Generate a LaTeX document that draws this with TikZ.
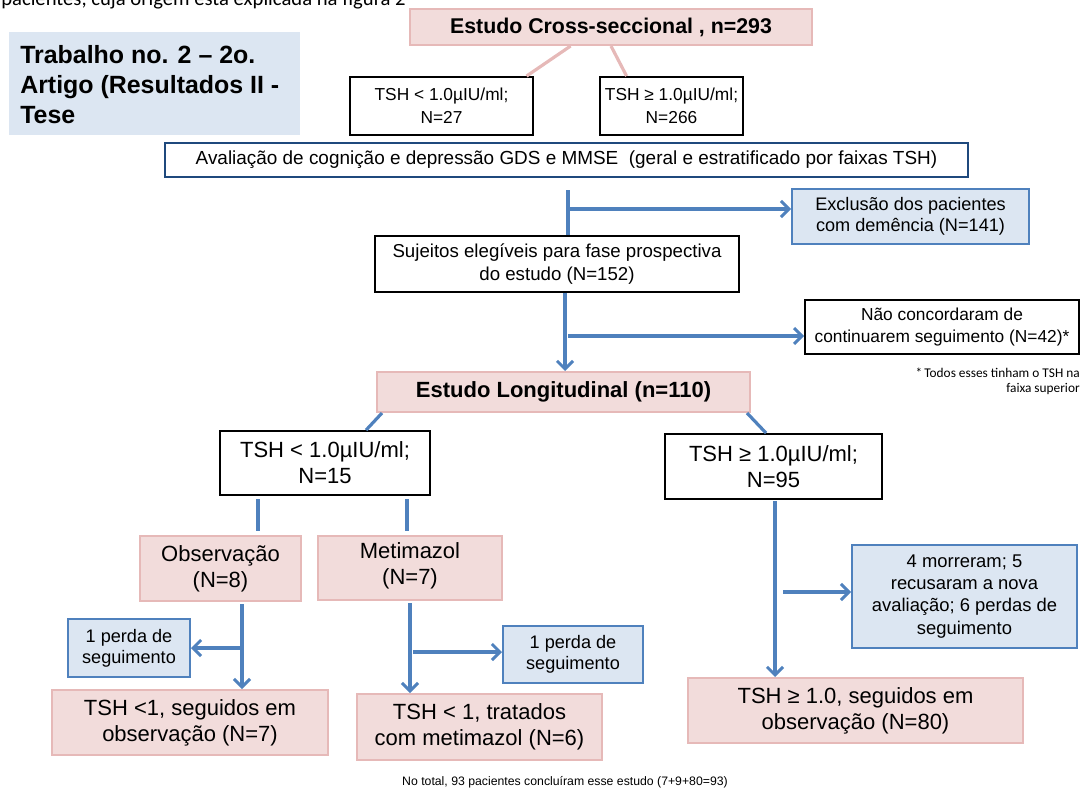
\documentclass[tikz,border=0pt]{standalone}
\usepackage{fontspec}
\setmainfont{Liberation Sans}
\newfontfamily\calib{Carlito}
\usetikzlibrary{fit,calc,arrows.meta}
\definecolor{pinkfill}{HTML}{F2DCDB}
\definecolor{pinkline}{HTML}{E6B9B8}
\definecolor{bluefill}{HTML}{DCE6F2}
\definecolor{blueline}{HTML}{4F81BD}
\definecolor{darkblue}{HTML}{1F497D}
\begin{document}
\begin{tikzpicture}[x=0.75pt,y=-0.75pt,
  base/.style={inner sep=0pt, align=center},
  small/.style={font=\fontsize{13}{17}\selectfont},
  large/.style={font=\fontsize{16.5}{19.5}\selectfont},
  mid/.style={font=\fontsize{13.6}{16}\selectfont},
  head/.style={font=\fontsize{16.5}{20}\selectfont\bfseries},
  blk/.style={base, draw=black, line width=1.4pt},
  pinkbox/.style={base, draw=pinkline, fill=pinkfill, line width=1.5pt},
  bluebox/.style={base, draw=blueline, fill=bluefill, line width=1.5pt},
  conn/.style={draw=blueline, line width=2.4pt},
  arr/.style={conn, -{Straight Barb[length=6pt,width=12pt,line width=2.2pt]}},
  pinkconn/.style={draw=pinkline, line width=2.4pt}]
\useasboundingbox (0,0) rectangle (1084,792);

% top cut text
\node[anchor=base west, inner sep=0pt, font=\calib\fontsize{15.5}{17}\selectfont] (toptext) at (1,6) {pacientes, cuja origem está explicada na figura 2};

% title
\node[base, fill=bluefill, fit={(9,32) (300,135)}] (titlebox) {};
\node[anchor=north west, inner sep=0pt, align=left, font=\fontsize{18.7}{22.5}\selectfont\bfseries] (title) at (20,45) {Trabalho no. 2 – 2o.\\Artigo (Resultados II -\\Tese};

% boxes
\node[pinkbox, fit={(410,9) (812,45)}] (cross) {};
\node[font=\fontsize{16}{20}\selectfont\bfseries] at (cross.center) (crosst) {Estudo Cross-seccional , n=293};

\node[blk, fit={(350,77) (533,135)}] (tsha) {};
\node[small, align=center] at (tsha.center) (tshat) {TSH < 1.0µIU/ml;\\N=27};
\node[blk, fit={(600,77) (743,135)}] (tshb) {};
\node[small, align=center] at (tshb.center) (tshbt) {TSH ≥ 1.0µIU/ml;\\N=266};

\node[base, draw=darkblue, line width=1.6pt, fit={(165,143) (968,177)}] (aval) {};
\node[font=\fontsize{14.2}{17}\selectfont] at (aval.center) (avalt) {Avaliação de cognição e depressão GDS e MMSE\ \ (geral e estratificado por faixas TSH)};

\node[bluebox, fit={(792,189) (1029,244)}] (excl) {};
\node[mid, align=center] at (excl.center) (exclt) {Exclusão dos pacientes\\com demência (N=141)};

\node[blk, fit={(375,236) (739,292)}] (suj) {};
\node[font=\fontsize{14}{17.5}\selectfont, align=center] at (suj.center) (sujt) {Sujeitos elegíveis para fase prospectiva\\do estudo (N=152)};

\node[blk, fit={(805,300) (1079,354)}] (nao) {};
\node[small, align=center] at (nao.center) (naot) {Não concordaram de\\continuarem seguimento (N=42)*};

\node[anchor=north east, inner sep=0pt, align=right, font=\calib\fontsize{10}{11}\selectfont] (foot) at (1080,368) {*\,Todos esses tinham o TSH na\\faixa superior};

\node[pinkbox, fit={(377,372) (750,412)}] (long) {};
\node[head] at (long.center) (longt) {Estudo Longitudinal (n=110)};

\node[blk, fit={(220,431) (430,495)}] (tshc) {};
\node[large, align=center] at (tshc.center) (tshct) {TSH < 1.0µIU/ml;\\N=15};
\node[blk, fit={(665,434) (882,499)}] (tshd) {};
\node[large, align=center] at (tshd.center) (tshdt) {TSH ≥ 1.0µIU/ml;\\N=95};

\node[pinkbox, fit={(140,536) (301,601)}] (obs) {};
\node[large, align=center] at (obs.center) (obst) {Observação\\(N=8)};
\node[pinkbox, fit={(318,536) (502,600)}] (meti) {};
\node[large, align=center] at ([yshift=2pt]meti.center) (metit) {Metimazol\\(N=7)};

\node[bluebox, fit={(68,619) (190,677)}] (perda1) {};
\node[mid, align=center] at (perda1.center) (perda1t) {1 perda de\\seguimento};
\node[bluebox, fit={(503,626) (643,683)}] (perda2) {};
\node[mid, align=center] at (perda2.center) (perda2t) {1 perda de\\seguimento};
\node[bluebox, fit={(852,545) (1077,648)}] (morr) {};
\node[align=center, font=\fontsize{13.8}{16.6}\selectfont] at (morr.center) (morrt) {4 morreram; 5\\recusaram a nova\\avaliação; 6 perdas de\\seguimento};

\node[pinkbox, fit={(52,690) (328,755)}] (res1) {};
\node[large, align=center] at (res1.center) (res1t) {TSH <1, seguidos em\\observação (N=7)};
\node[pinkbox, fit={(357,694) (602,760)}] (res2) {};
\node[large, align=center] at (res2.center) (res2t) {TSH < 1, tratados\\com metimazol (N=6)};
\node[pinkbox, fit={(688,678) (1023,743)}] (res3) {};
\node[large, align=center] at (res3.center) (res3t) {TSH ≥ 1.0, seguidos em\\observação (N=80)};

\node[inner sep=0pt, font=\fontsize{9.2}{11}\selectfont] (total) at (565,782) {No total, 93 pacientes concluíram esse estudo (7+9+80=93)};

% connectors
\draw[pinkconn] ($(cross.south west)!0.4!(cross.south east)$) -- ($(tsha.north west)!0.96!(tsha.north east)$);
\draw[pinkconn] (cross.south) -- ($(tshb.north west)!0.19!(tshb.north east)$);

\coordinate (a1) at (568,190);
\draw[conn] (a1) -- (a1 |- suj.north);
\coordinate (b1) at (570,209);
\draw[arr] (b1) -- (b1 -| excl.west);

\coordinate (c1) at (565,292);
\draw[arr] (c1 |- suj.south) -- (c1 |- long.north);
\coordinate (d1) at (568,336);
\draw[arr] (d1) -- (d1 -| nao.west);

\draw[conn] ($(long.south west)+(6,0)$) -- ($(tshc.north west)+(147,0)$);
\draw[conn] ($(long.south east)+(-4,0)$) -- ($(tshd.north west)+(102,0)$);

\coordinate (e1) at (258,499);
\draw[conn] (e1) -- (258,531);
\coordinate (e2) at (407,499);
\draw[conn] (e2) -- (407,531);

\coordinate (f1) at (242,604);
\draw[arr] (f1) -- (f1 |- res1.north);
\coordinate (f2) at (242,648);
\draw[arr] (f2) -- (f2 -| perda1.east);

\coordinate (g1) at (410,603);
\draw[arr] (g1) -- (g1 |- res2.north);
\coordinate (g2) at (413,652);
\draw[arr] (g2) -- (g2 -| perda2.west);

\coordinate (h1) at (775,501);
\draw[arr] (h1) -- (h1 |- res3.north);
\coordinate (h2) at (783,592);
\draw[arr] (h2) -- (h2 -| morr.west);
\end{tikzpicture}
\end{document}
